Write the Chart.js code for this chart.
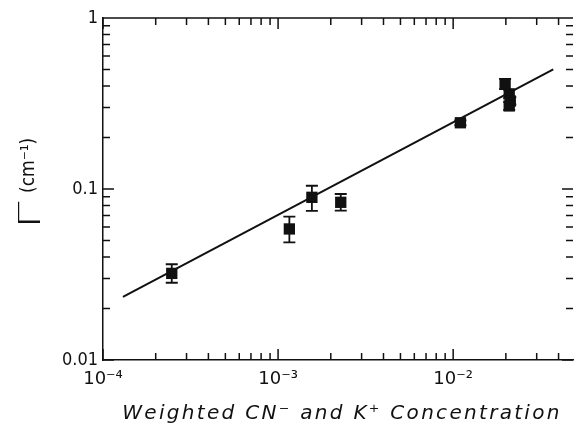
<!DOCTYPE html>
<html>
<head>
<meta charset="utf-8">
<script src="https://cdn.jsdelivr.net/npm/chart.js@4.4.0/dist/chart.umd.min.js"></script>
<style>
  html, body { margin: 0; padding: 0; background: #fff; overflow: hidden; }
  #wrap { position: relative; width: 574px; height: 428px; }
</style>
</head>
<body>
<div id="wrap"><canvas id="chart" width="574" height="428"></canvas></div>
<script>
// values
const concentration = [2.47e-4, 1.16e-3, 1.56e-3, 2.28e-3, 1.10e-2, 0.0198, 0.0209, 0.0212, 0.0209];
const gamma     = [0.0321, 0.0584, 0.0894, 0.0836, 0.244, 0.411, 0.360, 0.327, 0.306];
const gammaLow  = [0.0283, 0.0488, 0.0744, 0.0747, 0.236, 0.384, 0.340, 0.312, 0.290];
const gammaHigh = [0.0363, 0.0689, 0.1045, 0.0935, 0.252, 0.440, 0.380, 0.345, 0.322];

// fitted line, end points
const fitX = [1.30e-4, 0.0373];
const fitY = [0.0234, 0.501];

// tick labels
const xLabelValues = [1e-4, 1e-3, 1e-2];
const xLabelText = ['10\u207B\u2074', '10\u207B\u00B3', '10\u207B\u00B2'];
const yLabelValues = [0.01, 0.1, 1];
const yLabelText = ['0.01', '0.1', '1'];

const INK = '#111';

function labelFor(values, texts, v) {
    const i = values.findIndex(t => Math.abs(Math.log10(t) - Math.log10(v)) < 1e-6);
    return i >= 0 ? texts[i] : '';
}

// inward ticks on all four sides + top frame line
const frameTicks = {
    id: 'frameTicks',
    afterDraw(chart) {
        const { ctx, chartArea: a, scales: { x, y } } = chart;
        ctx.save();
        ctx.strokeStyle = INK;
        ctx.lineWidth = 1.5;
        ctx.beginPath();
        ctx.moveTo(a.left, a.top);
        ctx.lineTo(a.right - 12, a.top);
        const isInt = v => {
            const m = v / Math.pow(10, Math.floor(Math.log10(v) + 1e-9));
            return Math.abs(m - Math.round(m)) < 1e-6;
        };
        const isMajor = v => Math.abs(Math.log10(v) - Math.round(Math.log10(v))) < 1e-6;
        x.ticks.forEach(t => {
            if (!isInt(t.value)) return;
            const px = x.getPixelForValue(t.value);
            const len = isMajor(t.value) ? 11 : 7;
            ctx.moveTo(px, a.bottom); ctx.lineTo(px, a.bottom - len);
            ctx.moveTo(px, a.top); ctx.lineTo(px, a.top + len);
        });
        y.ticks.forEach(t => {
            if (!isInt(t.value)) return;
            const py = y.getPixelForValue(t.value);
            const len = isMajor(t.value) ? 11 : 7;
            ctx.moveTo(a.left, py); ctx.lineTo(a.left + len, py);
            ctx.moveTo(a.right - 1, py); ctx.lineTo(a.right - 1 - len, py);
        });
        ctx.stroke();
        ctx.restore();
    }
};

// error bars under the squares
const errorBars = {
    id: 'errorBars',
    beforeDatasetsDraw(chart) {
        const { ctx, scales: { y } } = chart;
        const meta = chart.getDatasetMeta(0);
        ctx.save();
        ctx.strokeStyle = INK;
        ctx.lineWidth = 1.8;
        ctx.beginPath();
        meta.data.forEach((pt, i) => {
            const lo = y.getPixelForValue(gammaLow[i]);
            const hi = y.getPixelForValue(gammaHigh[i]);
            ctx.moveTo(pt.x, lo); ctx.lineTo(pt.x, hi);
            ctx.moveTo(pt.x - 6, lo); ctx.lineTo(pt.x + 6, lo);
            ctx.moveTo(pt.x - 6, hi); ctx.lineTo(pt.x + 6, hi);
        });
        ctx.stroke();
        ctx.restore();
    }
};

// axis titles
const axisTitles = {
    id: 'axisTitles',
    afterDraw(chart) {
        const { ctx, chartArea: a } = chart;
        ctx.save();
        ctx.fillStyle = INK;
        // x title
        ctx.font = 'italic 20px "DejaVu Sans"';
        ctx.letterSpacing = '2.3px';
        ctx.textAlign = 'center';
        ctx.textBaseline = 'alphabetic';
        ctx.fillText('Weighted CN\u207B and K\u207A Concentration', 342, 419);
        ctx.letterSpacing = '0px';
        // y title, rotated
        ctx.translate(0, (a.top + a.bottom) / 2);
        ctx.rotate(-Math.PI / 2);
        ctx.textAlign = 'left';
        ctx.save();
        ctx.translate(-40, 40);
        ctx.scale(1.6, 1);
        ctx.font = '300 31px "DejaVu Sans"';
        ctx.fillText('\u0393', 0, 0);
        ctx.restore();
        ctx.font = '19px "DejaVu Sans Condensed"';
        ctx.fillText('(cm\u207B\u00B9)', -4, 34);
        ctx.restore();
    }
};

new Chart(document.getElementById('chart'), {
    type: 'scatter',
    data: {
        datasets: [{
            data: concentration.map((c, i) => ({ x: c, y: gamma[i] })),
            pointStyle: 'rect',
            pointRadius: 8,
            backgroundColor: INK,
            borderWidth: 0
        }, {
            data: fitX.map((c, i) => ({ x: c, y: fitY[i] })),
            showLine: true,
            borderColor: INK,
            borderWidth: 2,
            pointRadius: 0
        }]
    },
    options: {
        responsive: false,
        animation: false,
        layout: { autoPadding: false, padding: { top: 18, right: 0, left: 0, bottom: 0 } },
        plugins: { legend: { display: false }, tooltip: { enabled: false } },
        scales: {
            x: {
                type: 'logarithmic',
                min: 1e-4,
                max: 0.049,
                afterFit: s => { s.height = 68; s.paddingRight = 0; s.paddingLeft = 0; },
                grid: { display: false, drawTicks: false },
                border: { color: INK, width: 1.5 },
                ticks: {
                    autoSkip: false,
                    maxRotation: 0,
                    padding: 9,
                    color: INK,
                    font: { family: 'DejaVu Sans', size: 18 },
                    callback: v => labelFor(xLabelValues, xLabelText, v)
                }
            },
            y: {
                type: 'logarithmic',
                min: 0.01,
                max: 1,
                afterFit: s => { s.width = 103; s.paddingTop = 0; s.paddingBottom = 0; },
                grid: { display: false, drawTicks: false },
                border: { color: INK, width: 1.5 },
                ticks: {
                    autoSkip: false,
                    padding: 5,
                    color: INK,
                    font: { family: 'DejaVu Sans Condensed', size: 18 },
                    callback: v => labelFor(yLabelValues, yLabelText, v)
                }
            }
        }
    },
    plugins: [errorBars, frameTicks, axisTitles]
});
</script>
</body>
</html>
